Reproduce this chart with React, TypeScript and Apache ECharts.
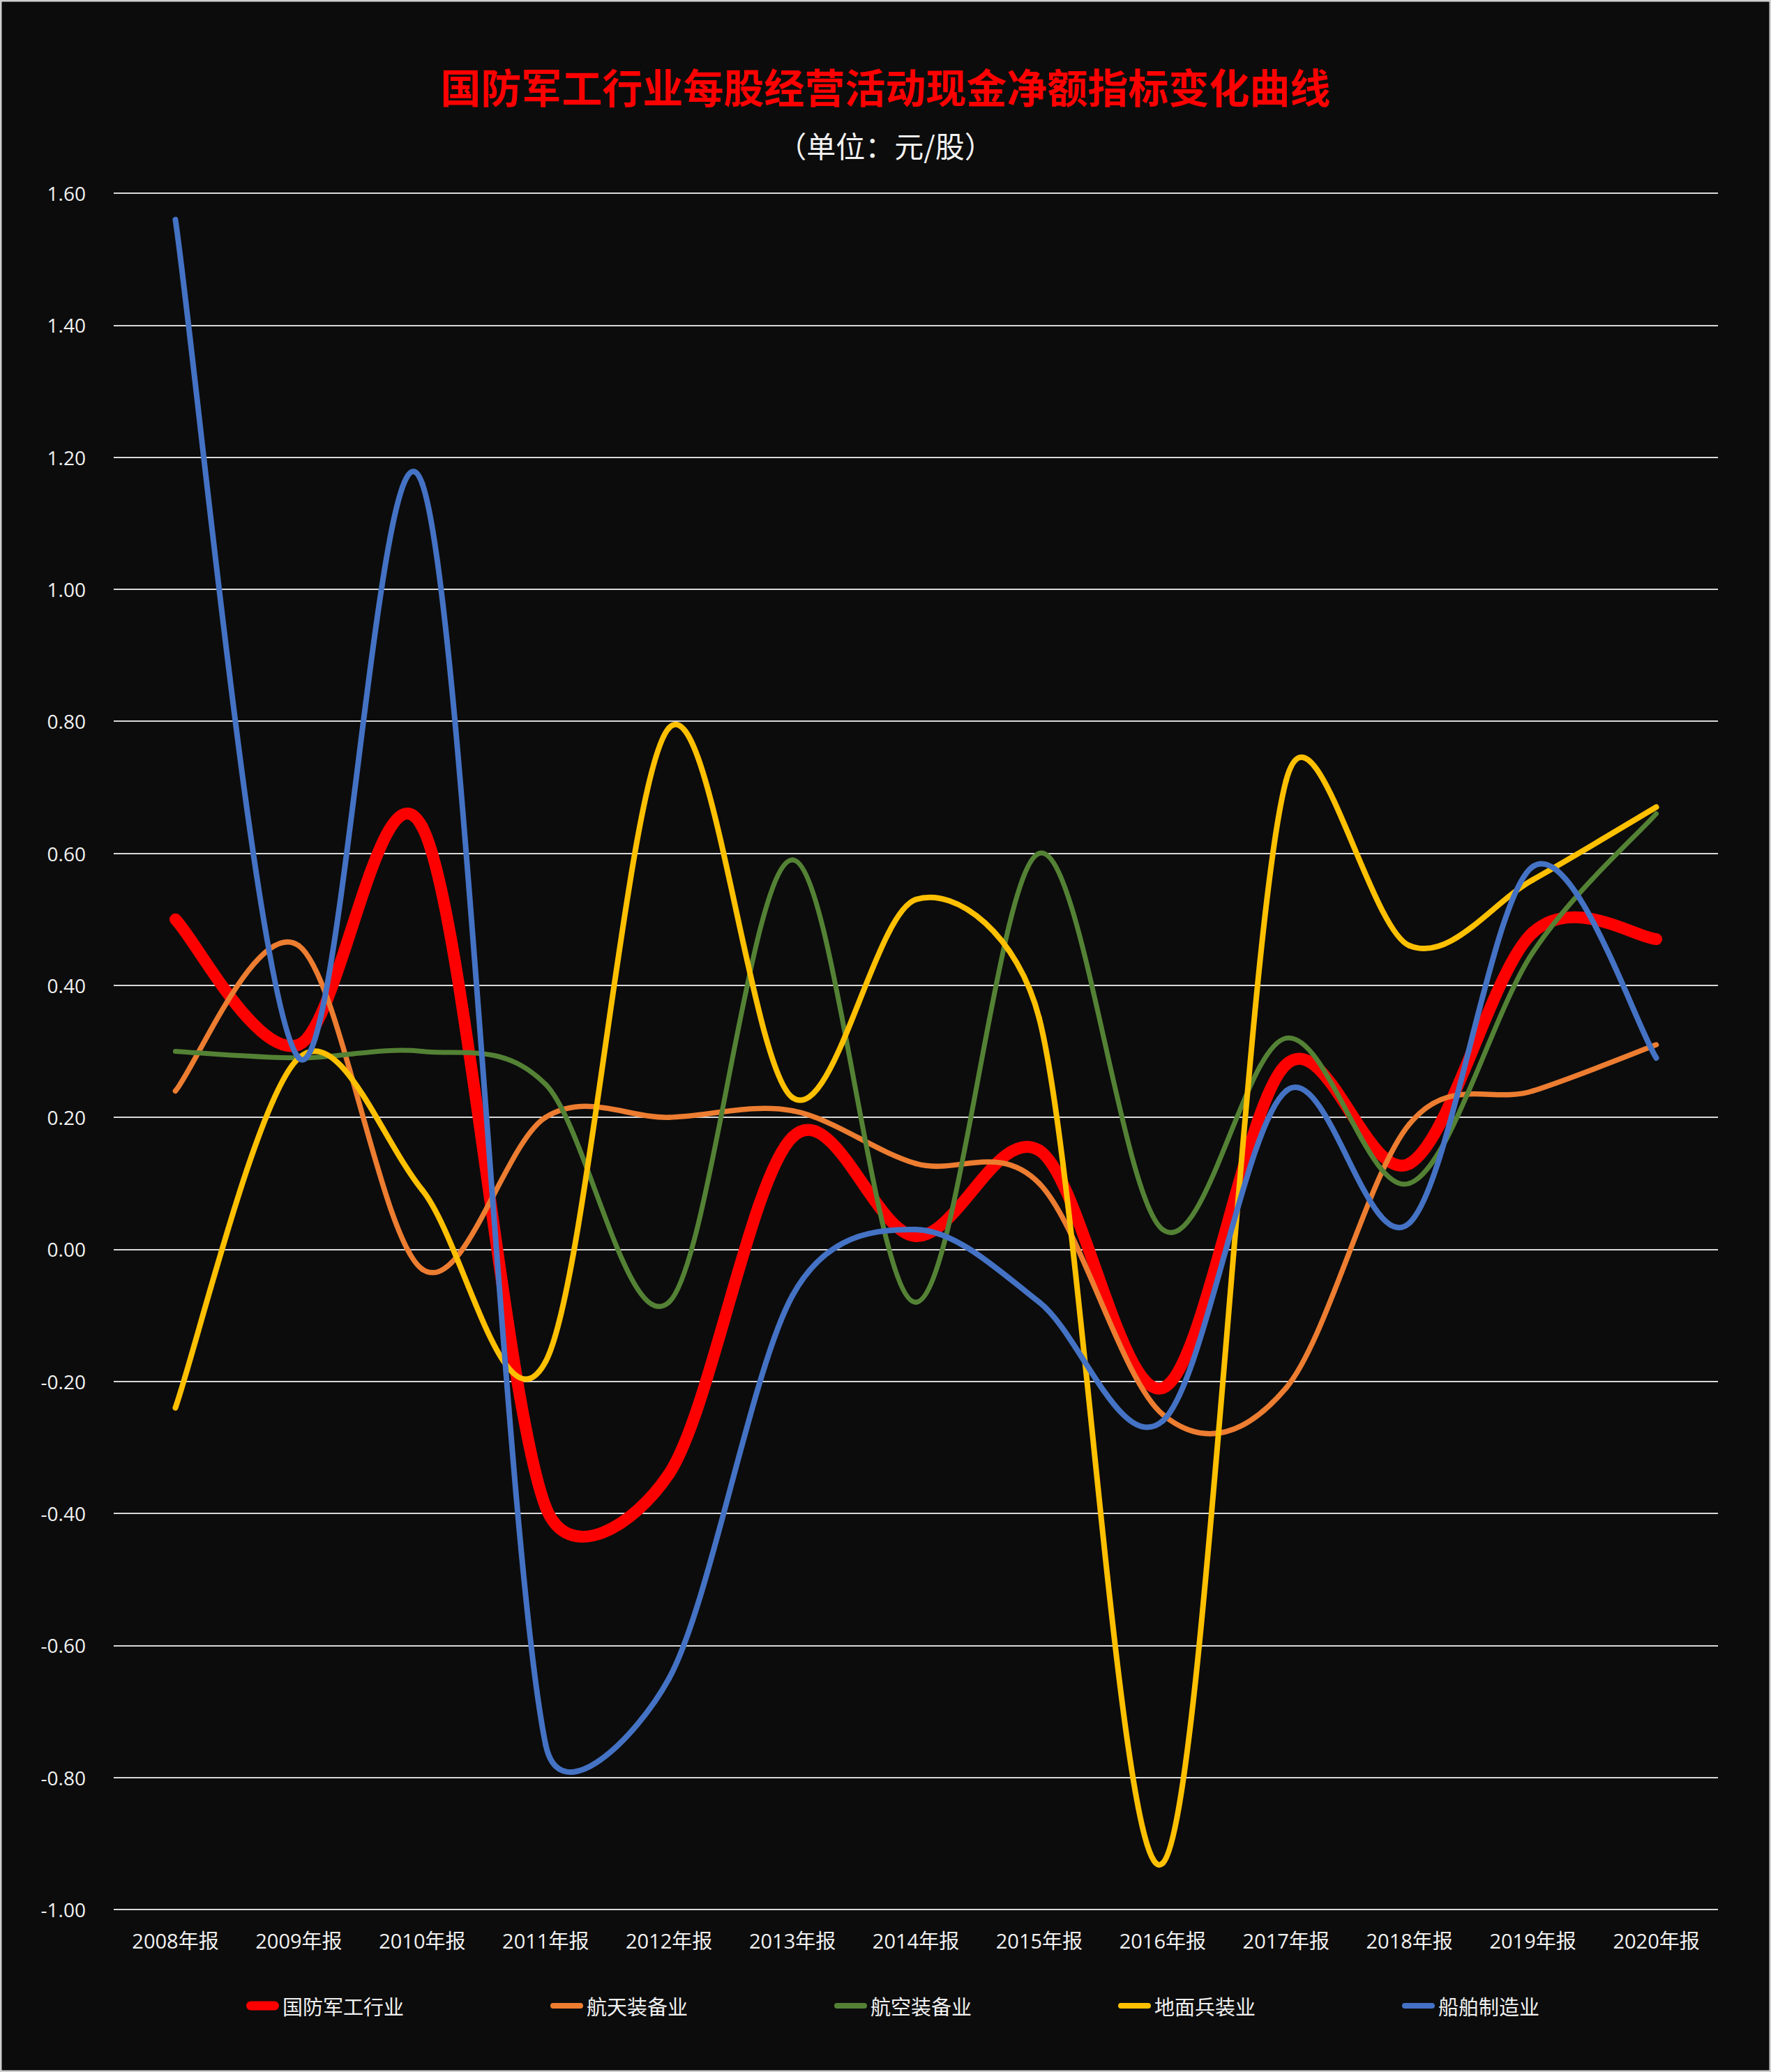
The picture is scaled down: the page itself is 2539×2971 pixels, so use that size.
import React, { useEffect, useRef } from "react";
import * as echarts from "echarts";

const categories = [
  "2008年报", "2009年报", "2010年报", "2011年报", "2012年报", "2013年报", "2014年报",
  "2015年报", "2016年报", "2017年报", "2018年报", "2019年报", "2020年报",
];
const seriesNames = ["国防军工行业", "航天装备业", "航空装备业", "地面兵装业", "船舶制造业"];
const defense = [0.50, 0.31, 0.64, -0.39, -0.34, 0.17, 0.02, 0.15, -0.21, 0.28, 0.13, 0.48, 0.47];
const aerospace = [0.24, 0.46, -0.03, 0.20, 0.20, 0.21, 0.13, 0.10, -0.25, -0.21, 0.19, 0.24, 0.31];
const aviation = [0.30, 0.29, 0.30, 0.25, -0.08, 0.59, -0.08, 0.60, 0.03, 0.32, 0.10, 0.45, 0.66];
const ground = [-0.24, 0.29, 0.09, -0.17, 0.79, 0.23, 0.53, 0.35, -0.93, 0.71, 0.46, 0.56, 0.67];
const ship = [1.56, 0.29, 1.16, -0.75, -0.65, -0.07, 0.03, -0.08, -0.26, 0.24, 0.04, 0.58, 0.29];
const yMin = -1.0;
const yMax = 1.6;
const yStep = 0.2;

const colors = ["#FF0000", "#ED7D31", "#548235", "#FFC000", "#4472C4"];
const widths = [17, 7.5, 7, 8, 8];
const allData = [defense, aerospace, aviation, ground, ship];

const FONT = "'Open Sans', 'Noto Sans CJK SC', sans-serif";
const CJK = "'Noto Sans CJK SC', sans-serif";

const thickIcon = "path://M6.5,0 H40.5 A6.5,6.5 0 0 1 40.5,13 H6.5 A6.5,6.5 0 0 1 6.5,0 Z";
const thinIcon = "path://M4,0 H43 A4,4 0 0 1 43,8 H4 A4,4 0 0 1 4,0 Z";

function dist(a: number[], b: number[]) {
  return Math.hypot(a[0] - b[0], a[1] - b[1]);
}

// Excel-like smoothed segment between point i and i+1
function makeRenderItem(s: number) {
  const arr = allData[s];
  return (params: any, api: any) => {
    const i = params.dataIndex;
    const n = arr.length;
    if (i >= n - 1) return null;
    const c = (k: number) => api.coord([k, arr[k]]);
    const p1 = c(i);
    const p2 = c(i + 1);
    const p0 = i > 0 ? c(i - 1) : p1;
    const p3 = i + 2 < n ? c(i + 2) : p2;
    const d12 = dist(p1, p2);
    const d02 = dist(p0, p2);
    const d13 = dist(p1, p3);
    let f1 = 1 / 6;
    let f2 = 1 / 6;
    if (d02 / 6 >= d12 / 2 && d02 > 0) f1 = d12 / (2 * d02);
    if (d13 / 6 >= d12 / 2 && d13 > 0) f2 = d12 / (2 * d13);
    const cp1 = [p1[0] + f1 * (p2[0] - p0[0]), p1[1] + f1 * (p2[1] - p0[1])];
    const cp2 = [p2[0] - f2 * (p3[0] - p1[0]), p2[1] - f2 * (p3[1] - p1[1])];
    return {
      type: "bezierCurve",
      shape: {
        x1: p1[0], y1: p1[1], x2: p2[0], y2: p2[1],
        cpx1: cp1[0], cpy1: cp1[1], cpx2: cp2[0], cpy2: cp2[1],
      },
      style: {
        fill: "none",
        stroke: colors[s],
        lineWidth: widths[s],
        lineCap: "round",
        lineJoin: "round",
      },
    };
  };
}

export default function App() {
  const ref = useRef<HTMLDivElement>(null);

  useEffect(() => {
    document.body.style.margin = "0";
    if (!ref.current) return;
    const chart = echarts.init(ref.current, null, { renderer: "svg" });
    chart.setOption({
      animation: false,
      backgroundColor: "#0c0c0c",
      title: [
        {
          text: "国防军工行业每股经营活动现金净额指标变化曲线",
          left: "center",
          top: 94,
          padding: 0,
          textStyle: {
            fontSize: 58,
            fontWeight: "bold",
            color: "#FF0000",
            fontFamily: CJK,
            lineHeight: 58,
          },
        },
        {
          text: "（单位：元/股）",
          left: "center",
          top: 186,
          padding: 0,
          textStyle: {
            fontSize: 42,
            fontWeight: "normal",
            color: "#f2f2f2",
            fontFamily: CJK,
            lineHeight: 42,
          },
        },
      ],
      legend: {
        left: 353,
        top: 2861,
        padding: 0,
        itemWidth: 47,
        itemHeight: 13,
        itemGap: 210,
        textStyle: { fontSize: 29, color: "#f2f2f2", fontFamily: CJK, lineHeight: 30 },
        data: seriesNames.map((n, i) => ({
          name: n,
          icon: i === 0 ? thickIcon : thinIcon,
          itemStyle: { color: colors[i] },
        })),
      },
      grid: { left: 163, right: 76, top: 277, bottom: 233, containLabel: false },
      xAxis: {
        type: "category",
        data: categories,
        boundaryGap: true,
        axisLine: { show: false },
        axisTick: { show: false },
        axisLabel: { margin: 30, fontSize: 29, color: "#f2f2f2", fontFamily: FONT },
      },
      yAxis: {
        type: "value",
        min: yMin,
        max: yMax,
        interval: yStep,
        axisLine: { show: false },
        axisTick: { show: false },
        axisLabel: {
          margin: 40,
          fontSize: 28,
          color: "#f2f2f2",
          fontFamily: FONT,
          formatter: (v: number) => v.toFixed(2),
        },
        splitLine: { show: true, lineStyle: { color: "#d9d9d9", width: 2 } },
      },
      series: seriesNames.map((n, s) => ({
        name: n,
        type: "custom",
        coordinateSystem: "cartesian2d",
        data: allData[s].map((v, i) => [i, v]),
        encode: { x: 0, y: 1 },
        itemStyle: { color: colors[s] },
        renderItem: makeRenderItem(s),
        clip: false,
      })),
      graphic: [
        {
          type: "rect",
          shape: { x: 1, y: 1, width: 2537, height: 2969 },
          style: { fill: "none", stroke: "#cfcfcf", lineWidth: 3 },
          silent: true,
        },
      ],
    });
    return () => chart.dispose();
  }, []);

  return <div ref={ref} style={{ width: 2539, height: 2971 }} />;
}
